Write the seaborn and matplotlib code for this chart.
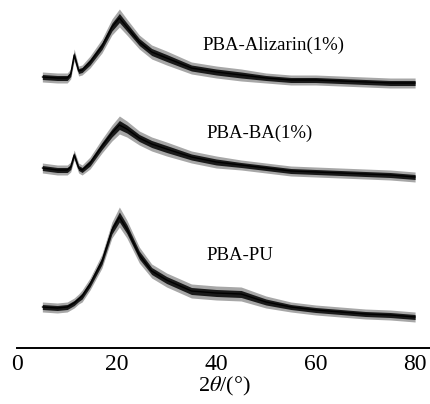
import numpy as np
import pandas as pd
import matplotlib
matplotlib.use("Agg")
import matplotlib.pyplot as plt
import seaborn as sns

# 2theta sampling positions (deg)
theta = [5, 8, 10, 10.7, 11.4, 12.3, 13, 14.6, 17, 19, 20.5, 22, 24.5, 27, 30,
         35, 40, 45, 50, 55, 60, 65, 70, 75, 80]

# Stacked (offset) intensities, arbitrary units
alizarin = [271, 270, 270, 274, 293, 277, 278, 286, 302, 321, 330, 321, 306, 296, 290,
            280, 276, 273, 270, 268, 268, 267, 266, 265, 265]
ba = [180, 178, 178, 181, 193, 180, 178, 185, 202, 215, 223, 219, 210, 204, 199,
      191, 186, 183, 180, 177, 176, 175, 174, 173, 171]
pu = [41, 40, 41, 43, 45, 49, 52, 64, 87, 118, 131, 119, 93, 77, 68,
      57, 55, 54, 46, 41, 38, 36, 34, 33, 31]

# noise band half-widths
alizarin_band = [5, 5, 5, 5, 6, 5, 5, 6, 7, 8, 9, 8, 7, 7, 7, 6, 6, 6, 5, 5, 5, 5, 5, 5, 5]
ba_band = [5, 5, 5, 5, 5, 5, 5, 6, 7, 8, 9, 8, 7, 7, 7, 6, 6, 5, 5, 5, 5, 5, 5, 5, 5]
pu_band = [5, 5, 5, 5, 5, 5, 6, 6, 7, 8, 10, 9, 8, 7, 7, 7, 7, 7, 6, 5, 5, 5, 5, 5, 5]

names = ["PBA-Alizarin(1%)", "PBA-BA(1%)", "PBA-PU"]
series = [alizarin, ba, pu]
bands = [alizarin_band, ba_band, pu_band]
label_pos = [(37.3, 303), (38.1, 215), (38.1, 93)]

sns.set_style("white")
plt.rcParams["font.family"] = ["Liberation Serif", "DejaVu Serif"]
plt.rcParams["mathtext.fontset"] = "stix"
plt.rcParams["text.color"] = "black"
plt.rcParams["xtick.color"] = "black"
plt.rcParams["axes.labelcolor"] = "black"
plt.rcParams["axes.edgecolor"] = "black"

fig = plt.figure(figsize=(4.31, 4.04), dpi=100)
ax = fig.add_axes([17.5 / 431, 56 / 404, 1 - 17.5 / 431, 348 / 404])

df = pd.concat([pd.DataFrame({"theta": theta, "I": s, "sample": n})
                for s, n in zip(series, names)])

th = np.array(theta)
for s, b in zip(series, bands):
    s = np.array(s, float)
    b = np.array(b, float)
    ax.fill_between(th, s - b, s + b, color="#8a8a8a", lw=0, alpha=0.75)
    ax.fill_between(th, s - 0.5 * b, s + 0.5 * b, color="#1a1a1a", lw=0)

sns.lineplot(data=df, x="theta", y="I", units="sample", estimator=None,
             color="black", lw=1.0, ax=ax, legend=False)

for n, (x, y) in zip(names, label_pos):
    ax.text(x, y, n, fontsize=13.5, ha="left", va="center", color="black")

ax.set_xlim(0, 83.2)
ax.set_ylim(0, 348)
for side in ["left", "right", "top"]:
    ax.spines[side].set_visible(False)
ax.spines["bottom"].set_linewidth(1.4)
ax.spines["bottom"].set_color("black")
ax.set_yticks([])
ax.set_xticks([0, 20, 40, 60, 80])
ax.set_xticks([10, 30, 50, 70], minor=True)
ax.tick_params(axis="x", which="both", direction="in", length=5, width=1.2,
               labelsize=17, pad=4, colors="black")
ax.set_xlabel(r"2$\theta$/(°)", fontsize=16, labelpad=0)
ax.set_ylabel("")

fig.savefig("out.png", dpi=100)
